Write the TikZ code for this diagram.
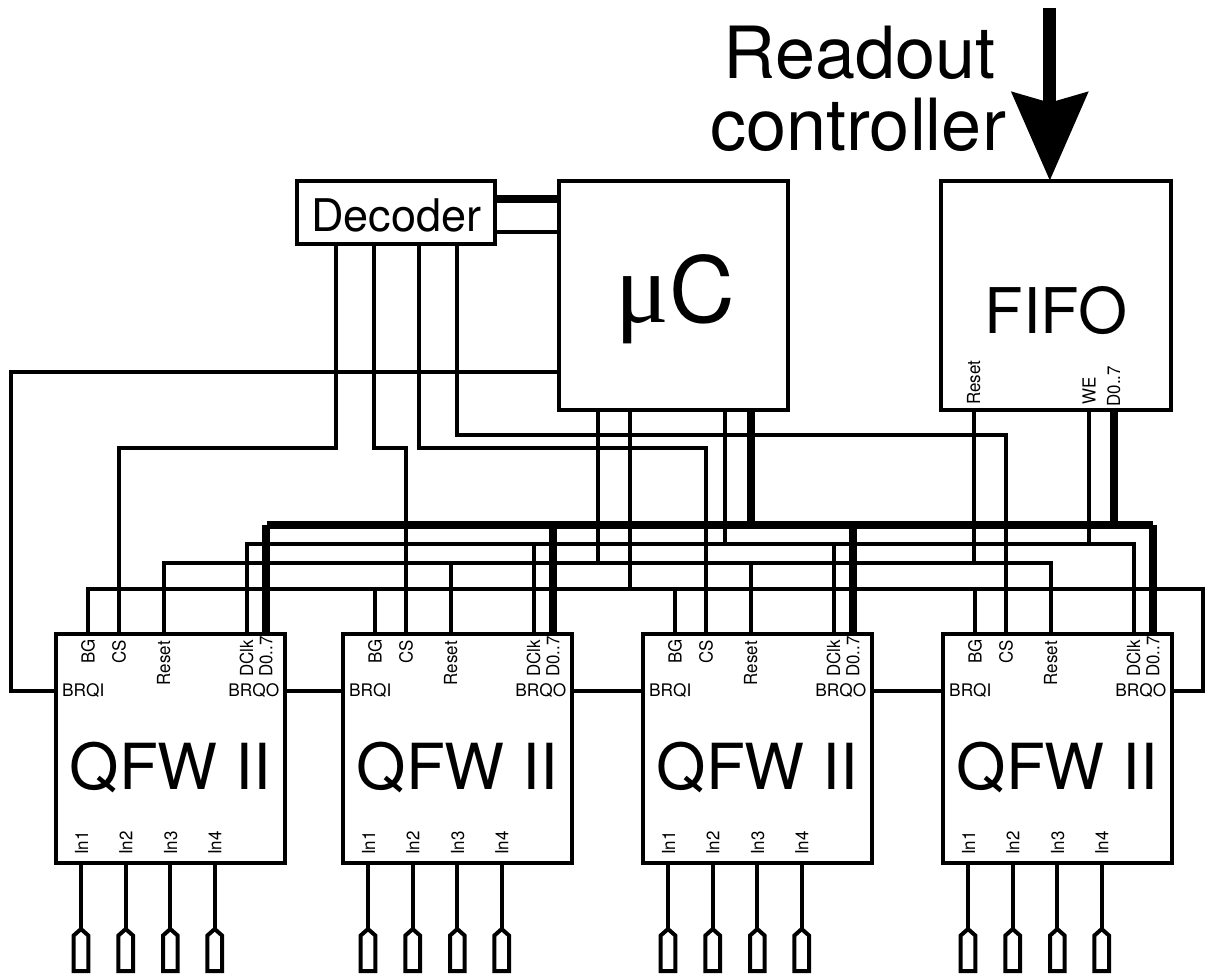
\documentclass[tikz,border=0pt]{standalone}
\usepackage{fontspec}
\setmainfont{TeX Gyre Heros}
\newfontfamily\muserif{Liberation Serif}
\usetikzlibrary{arrows.meta}
\newcommand{\fsz}[1]{\fontsize{#1}{#1}\selectfont}
\tikzset{
  wire/.style={line width=4pt,line join=miter,line cap=butt},
  fatwire/.style={line width=8pt,line join=miter,line cap=butt},
  blockbox/.style={draw,line width=4pt,inner sep=0pt,outer sep=0pt,text depth=0pt,anchor=north west},
  pinlab/.style={font=\fsz{18},inner sep=0pt,rotate=90,xscale=.94,anchor=base west},
  sidelab/.style={font=\fsz{17.3},inner sep=0pt},
  bigtext/.style={font=\fsz{72},inner sep=0pt,anchor=base west},
  pinshape/.style={line width=4pt,line join=miter}
}
\begin{document}
\begin{tikzpicture}[x=1pt,y=-1pt]
\useasboundingbox (0,0) rectangle (1207,974);

% --- main blocks
\node[blockbox,minimum width=197.7pt,minimum height=63.3pt,text height=37.3pt,font=\fsz{45}] (dec) at (297.3,180.7) {Decoder};
\node[blockbox,minimum width=229.5pt,minimum height=228.8pt,text height=54pt,font=\fsz{91}] (uc) at (558.5,180.7) {\hspace*{4pt}{\muserif\fsz{100}μ}C};
\node[blockbox,minimum width=230pt,minimum height=228.8pt,text height=77pt,font=\fsz{63}] (fifo) at (941,180.7) {FIFO};

% --- QFW II blocks and their pins
\foreach \i/\o in {1/0,2/287,3/587,4/887}{
  \node[blockbox,minimum width=229.5pt,minimum height=229pt,text height=82pt,font=\fsz{63.5}] (q\i) at ({55.5+\o},633.7) {QFW II};
  \coordinate (q\i-bg) at ({87.7+\o},633.7);
  \coordinate (q\i-cs) at ({119.3+\o},633.7);
  \coordinate (q\i-rs) at ({163.7+\o},633.7);
  \coordinate (q\i-dc) at ({247+\o},633.7);
  \coordinate (q\i-d)  at ({265.7+\o},633.7);
  \coordinate (q\i-bi) at ({55.5+\o},690.7);
  \coordinate (q\i-bo) at ({285+\o},690.7);
  \node[pinlab] at ({94.6+\o},664) {BG};
  \node[pinlab] at ({125.6+\o},664) {CS};
  \node[pinlab] at ({170+\o},685.3) {Reset};
  \node[pinlab] at ({253+\o},677) {DClk};
  \node[pinlab] at ({272.4+\o},677) {D0..7};
  \node[sidelab,anchor=base west] at ({62+\o},696.7) {BRQI};
  \node[sidelab,anchor=base east] at ({279.5+\o},696.7) {BRQO};
  \foreach \k/\x/\tx in {1/81/88,2/125.7/132.4,3/170.3/177,4/214.7/221.4}{
    \node[pinlab] at ({\tx+\o},855) {In\k};
    \coordinate (q\i-in\k) at ({\x+\o},862.7);
    \coordinate (q\i-tip\k) at ({\x+\o},929);
    \draw[wire] (q\i-in\k) -- (q\i-tip\k);
    \draw[pinshape] (q\i-tip\k) -- ++(7.3,6.5) -- ++(0,35.5) -- ++(-14.6,0) -- ++(0,-35.5) -- cycle;
  }
}

% --- bus rails
\coordinate (bus-l) at (266.7,524.7);
\coordinate (bus-r) at (1152.7,524.7);
\coordinate (dc-l) at (q1-dc |- 0,543.7);
\coordinate (dc-r) at (q4-dc |- 0,543.7);
\coordinate (rs-l) at (q1-rs |- 0,563);
\coordinate (rs-r) at (q4-rs |- 0,563);
\coordinate (bg-l) at (q1-bg |- 0,589);
\coordinate (bg-r) at (1203,589);

\draw[fatwire] (bus-l) -- (bus-r);
\draw[wire] (q1-dc) -- (dc-l) -- (dc-r) -- (q4-dc);
\draw[wire] (q1-rs) -- (rs-l) -- (rs-r) -- (q4-rs);
\draw[wire] (q1-bg) -- (bg-l) -- (bg-r) -- (bg-r |- q4-bo) -- (q4-bo);

\foreach \i in {1,2,3,4}{
  \draw[fatwire] (q\i-d) -- (q\i-d |- bus-l);
}
\foreach \i in {2,3}{
  \draw[wire] (q\i-dc) -- (q\i-dc |- dc-l);
  \draw[wire] (q\i-rs) -- (q\i-rs |- rs-l);
}
\foreach \i in {2,3,4}{
  \draw[wire] (q\i-bg) -- (q\i-bg |- bg-l);
}
\draw[wire] (q1-bo) -- (q2-bi);
\draw[wire] (q2-bo) -- (q3-bi);
\draw[wire] (q3-bo) -- (q4-bi);

% --- decoder <-> uC
\coordinate (dec-a) at (dec.east |- 0,199.3);
\coordinate (dec-b) at (dec.east |- 0,231.7);
\draw[fatwire] (dec-a) -- (uc.west |- dec-a);
\draw[wire] (dec-b) -- (uc.west |- dec-b);

% --- decoder outputs
\coordinate (d1) at (336,244);
\coordinate (d2) at (374.3,244);
\coordinate (d3) at (419,244);
\coordinate (d4) at (457.3,244);
\draw[wire] (d1) -- (336,448) -- (q1-cs |- 0,448) -- (q1-cs);
\draw[wire] (d2) -- (374.3,448) -- (q2-cs |- 0,448) -- (q2-cs);
\draw[wire] (d3) -- (419,448) -- (q3-cs |- 0,448) -- (q3-cs);
\draw[wire] (d4) -- (457.3,435.3) -- (q4-cs |- 0,435.3) -- (q4-cs);

% --- uC outputs
\coordinate (u-left) at (uc.west |- 0,372);
\draw[wire] (u-left) -- (11,372) -- (11,690.7) -- (q1-bi);
\coordinate (u1) at (598,409.5);
\coordinate (u2) at (629.6,409.5);
\coordinate (u3) at (724.8,409.5);
\coordinate (u4) at (751,409.5);
\draw[wire] (u1) -- (u1 |- rs-l);
\draw[wire] (u2) -- (u2 |- bg-l);
\draw[wire] (u3) -- (u3 |- dc-l);
\draw[fatwire] (u4) -- (u4 |- bus-l);

% --- FIFO
\coordinate (f1) at (974,409.5);
\coordinate (f2) at (1089,409.5);
\coordinate (f3) at (1114.4,409.5);
\draw[wire] (f1) -- (f1 |- rs-l);
\draw[wire] (f2) -- (f2 |- dc-l);
\draw[fatwire] (f3) -- (f3 |- bus-l);
\node[pinlab] at (980,405) {Reset};
\node[pinlab] at (1095.7,405) {WE};
\node[pinlab] at (1120,406.7) {D0..7};

% --- readout controller
\node[bigtext] (ro) at (723.5,78.3) {Readout};
\node[bigtext] (co) at (710,150) {controller};
\coordinate (in) at (1049.8,8);
\draw[line width=12.7pt,-{Stealth[length=88pt,width=75pt,inset=10pt]}] (in) -- (in |- fifo.north);
\end{tikzpicture}
\end{document}
